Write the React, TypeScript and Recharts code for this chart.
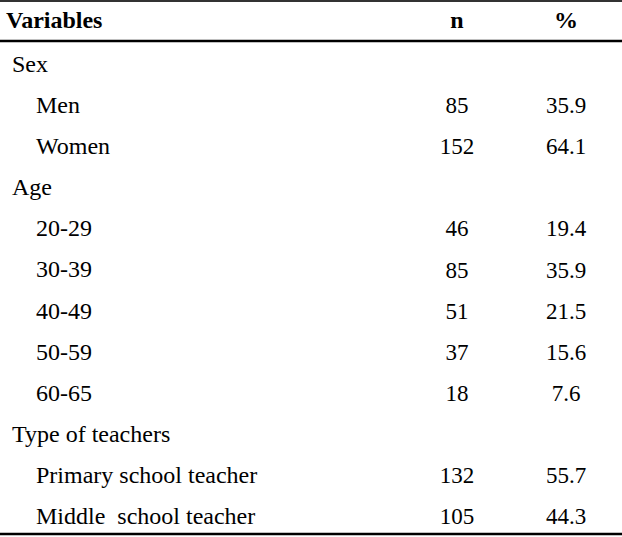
import React from "react";
import {
  ComposedChart,
  Bar,
  XAxis,
  YAxis,
  LabelList,
  Customized,
} from "recharts";

// table content
const headers = ["Variables", "n", "%"];

const rowLabels = [
  "Sex",
  "Men",
  "Women",
  "Age",
  "20-29",
  "30-39",
  "40-49",
  "50-59",
  "60-65",
  "Type of teachers",
  "Primary school teacher",
  "Middle  school teacher",
];

// 0 = group heading, 1 = item inside a group
const rowLevel = [0, 1, 1, 0, 1, 1, 1, 1, 1, 0, 1, 1];

const nValues = [null, 85, 152, null, 46, 85, 51, 37, 18, null, 132, 105];

const pctValues = [
  null, 35.9, 64.1, null, 19.4, 35.9, 21.5, 15.6, 7.6, null, 55.7, 44.3,
];

const data = rowLabels.map((label, i) => ({
  label,
  level: rowLevel[i],
  n: nValues[i],
  pct: pctValues[i],
}));

const W = 622;
const H = 537;
const FONT = "'Liberation Serif', 'Times New Roman', serif";
const FS = 23;
const LABEL_FS = 24;
const N_X = 457;
const PCT_X = 566;
const BASE = 10.5;

const RowLabel = (props: any) => {
  const { y, payload, index } = props;
  const lvl = data[index] ? data[index].level : 0;
  return (
    <text
      x={lvl ? 36 : 12}
      y={y + BASE}
      fontFamily={FONT}
      fontSize={LABEL_FS}
      fill="#000"
      style={{ whiteSpace: "pre" }}
    >
      {payload.value}
    </text>
  );
};

const colLabel = (cx: number, digits: number) => (props: any) => {
  const { value } = props;
  if (value === null || value === undefined) return null;
  const vb = props.viewBox || props;
  const cy = vb.y + vb.height / 2;
  return (
    <text
      x={cx}
      y={cy + BASE}
      textAnchor="middle"
      fontFamily={FONT}
      fontSize={FS}
      fill="#000"
    >
      {Number(value).toFixed(digits)}
    </text>
  );
};

const HeaderRow = () => (
  <g>
    <line x1={0} x2={W} y1={1} y2={1} stroke="#333" strokeWidth={2} />
    <text x={6} y={28} fontFamily={FONT} fontSize={LABEL_FS} fontWeight="bold" fill="#000">
      {headers[0]}
    </text>
    <text x={N_X} y={28} textAnchor="middle" fontFamily={FONT} fontSize={LABEL_FS} fontWeight="bold" fill="#000">
      {headers[1]}
    </text>
    <text x={PCT_X} y={28} textAnchor="middle" fontFamily={FONT} fontSize={LABEL_FS} fontWeight="bold" fill="#000">
      {headers[2]}
    </text>
  </g>
);

export default function App() {
  return (
    <div
      style={{
        position: "fixed",
        left: 0,
        top: 0,
        width: W,
        height: H,
        background: "#fff",
      }}
    >
      <ComposedChart
        width={W}
        height={H}
        data={data}
        layout="vertical"
        margin={{ top: 40, right: 0, bottom: 2, left: -1 }}
      >
        <XAxis
          xAxisId="top"
          type="number"
          orientation="top"
          height={1}
          tick={false}
          tickLine={false}
          axisLine={{ stroke: "#000", strokeWidth: 2.5 }}
        />
        <XAxis
          xAxisId="bottom"
          type="number"
          orientation="bottom"
          height={1}
          tick={false}
          tickLine={false}
          axisLine={{ stroke: "#000", strokeWidth: 2.5 }}
        />
        <YAxis
          type="category"
          dataKey="label"
          width={1}
          interval={0}
          tickLine={false}
          axisLine={false}
          tick={<RowLabel />}
        />
        <Bar
          xAxisId="top"
          dataKey="n"
          fill="transparent"
          isAnimationActive={false}
        >
          <LabelList dataKey="n" content={colLabel(N_X, 0)} />
          <LabelList dataKey="pct" content={colLabel(PCT_X, 1)} />
        </Bar>
        <Customized component={<HeaderRow />} />
      </ComposedChart>
    </div>
  );
}
